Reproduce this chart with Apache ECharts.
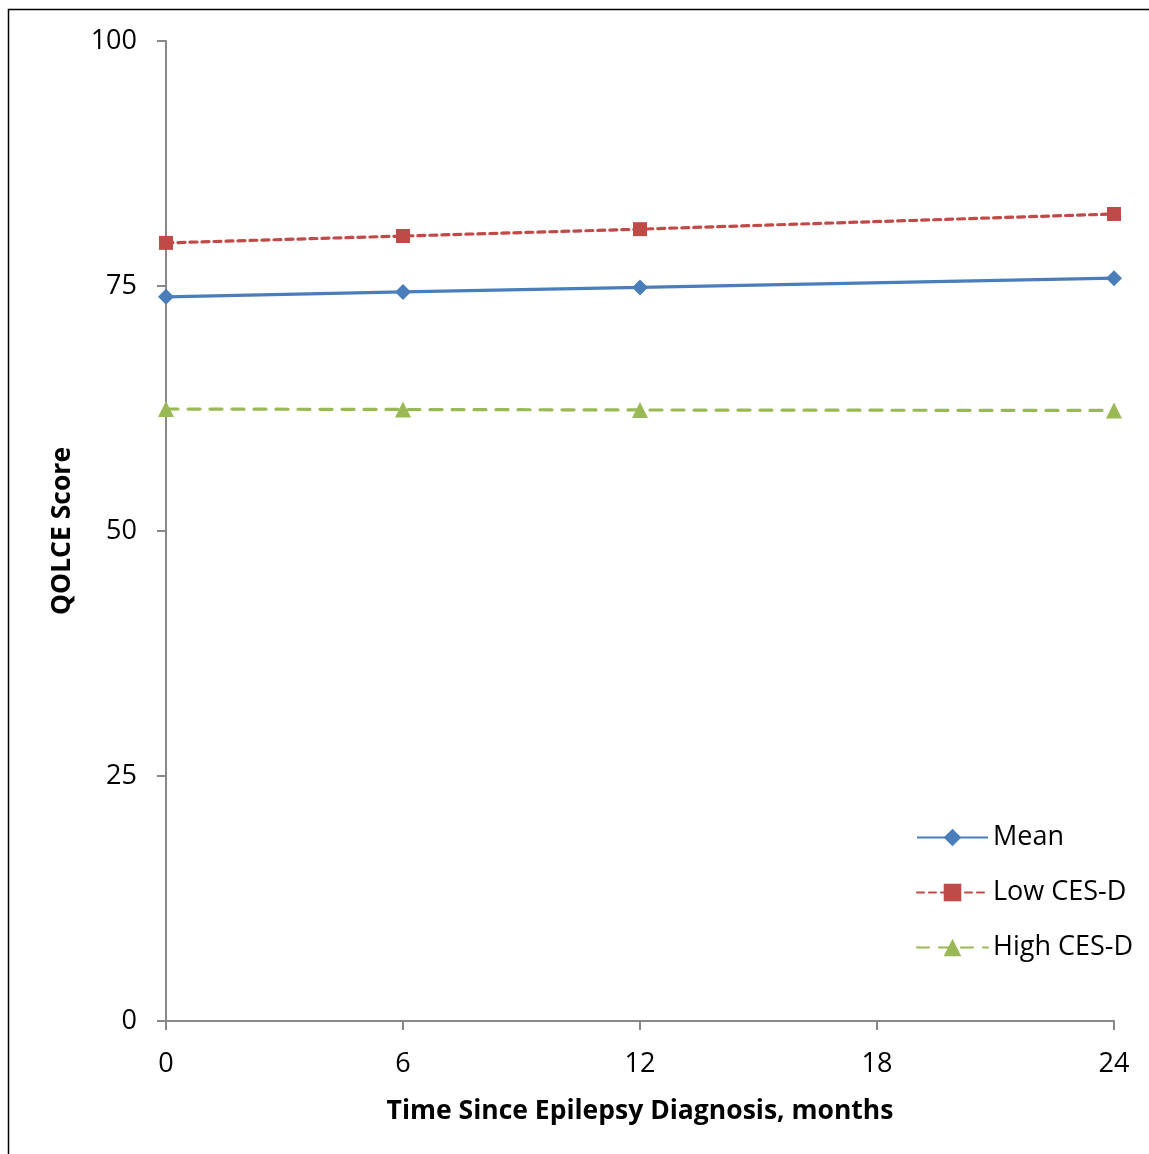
<!DOCTYPE html>
<html><head><meta charset="utf-8">
<script src="https://cdn.jsdelivr.net/npm/echarts@6/dist/echarts.min.js"></script>
<style>html,body{margin:0;padding:0;background:#fff}#c{width:1149px;height:1154px}</style>
</head><body><div id="c"></div>
<script>
const months = [0, 6, 12, 24];
const meanVals = [73.9, 74.4, 74.85, 75.8];
const lowVals = [79.4, 80.1, 80.8, 82.35];
const highVals = [62.45, 62.4, 62.35, 62.3];
const seriesNames = ['Mean', 'Low CES-D', 'High CES-D'];
const xTitle = 'Time Since Epilepsy Diagnosis, months';
const yTitle = 'QOLCE Score';

const font = 'Open Sans';
const chart = echarts.init(document.getElementById('c'));
const pairs = v => months.map((m, i) => [m, v[i]]);
chart.setOption({
  animation: false,
  backgroundColor: '#fff',
  graphic: [{
    type: 'polyline', shape: {points: [[8.5, 1160], [8.5, 9.5], [1160, 9.5]]},
    style: {stroke: '#000', lineWidth: 1.5, fill: null}, silent: true
  }],
  grid: {left: 166, right: 35, top: 41, bottom: 133, containLabel: false},
  xAxis: {
    type: 'value', min: 0, max: 24, interval: 6,
    name: xTitle, nameLocation: 'middle', nameGap: 77,
    nameTextStyle: {fontFamily: font, fontSize: 26.5, fontWeight: 'bold', color: '#000'},
    axisLine: {show: true, lineStyle: {color: '#888', width: 2}},
    axisTick: {show: true, inside: false, length: 9, lineStyle: {color: '#888', width: 2}},
    axisLabel: {fontFamily: font, fontSize: 27, color: '#000', margin: 30},
    splitLine: {show: false}
  },
  yAxis: {
    type: 'value', min: 0, max: 100, interval: 25,
    name: yTitle, nameLocation: 'middle', nameGap: 90, nameRotate: 90,
    nameTextStyle: {fontFamily: font, fontSize: 26.5, fontWeight: 'bold', color: '#000'},
    axisLine: {show: true, lineStyle: {color: '#888', width: 2}},
    axisTick: {show: true, inside: false, length: 9, lineStyle: {color: '#888', width: 2}},
    axisLabel: {fontFamily: font, fontSize: 27, color: '#000', margin: 29},
    splitLine: {show: false}
  },
  legend: {
    orient: 'vertical', left: 911, top: 819, itemWidth: 71, itemHeight: 22, itemGap: 28,
    textStyle: {fontFamily: font, fontSize: 27, color: '#000'},
    data: seriesNames
  },
  series: [
    {name: seriesNames[0], type: 'line', data: pairs(meanVals), symbol: 'diamond', symbolSize: 16,
     itemStyle: {color: '#4A7EBB'}, lineStyle: {color: '#4A7EBB', width: 3.2}},
    {name: seriesNames[1], type: 'line', data: pairs(lowVals), symbol: 'rect', symbolSize: 14,
     itemStyle: {color: '#BE4B48'}, lineStyle: {color: '#BE4B48', width: 3.2, type: [7, 5], cap: 'round'}},
    {name: seriesNames[2], type: 'line', data: pairs(highVals), symbol: 'triangle', symbolSize: 16,
     itemStyle: {color: '#98B954'}, lineStyle: {color: '#98B954', width: 3.2, type: [12, 10], cap: 'round'}}
  ]
});
</script></body></html>
